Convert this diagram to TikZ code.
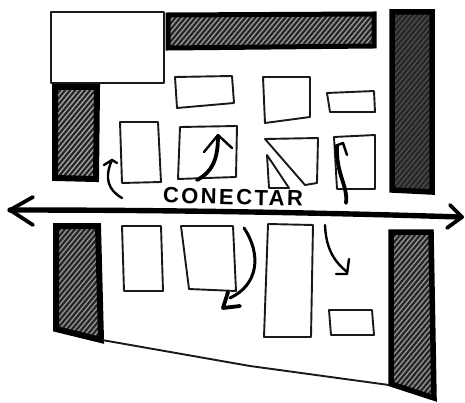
\documentclass[tikz,border=0pt]{standalone}
\usepackage{fontspec}
\setmainfont{Liberation Sans}
\newcommand{\hatchpoly}[3]{%
  \begin{scope}
    \clip #1 -- cycle;
    \fill[#2] (0,0) rectangle (465,403);
    \foreach \k in {-340,-335,...,470}{\draw[black!85,line width=2.2pt] (\k,410) -- (\k+340,0);}
  \end{scope}
  \draw[black,line width=#3,line join=miter] #1 -- cycle;
}
\tikzset{
  room/.style={draw=black!90,line width=1.9pt,line join=round},
  flowline/.style={black,line width=2.4pt,line cap=round,line join=round},
  heavyline/.style={black,line width=3.8pt,line cap=round,line join=round},
  mainline/.style={black,line width=5.4pt,line cap=round,line join=round},
}
\begin{document}
\begin{tikzpicture}[x=1pt,y=-1pt]
\useasboundingbox (0,0) rectangle (465,403);
% hatched masses
\hatchpoly{(168,15) -- (374,14) -- (374,46) -- (168,48)}{gray!80}{5pt}
\hatchpoly{(55,87) -- (97,87) -- (96,179) -- (55,178)}{gray!70}{6pt}
\hatchpoly{(392,12) -- (432,12) -- (432,192) -- (392,190)}{gray!60!black}{5.5pt}
\hatchpoly{(56,226) -- (98,226) -- (101,340) -- (56,329)}{gray!85}{6pt}
\hatchpoly{(391,232) -- (431,232) -- (434,398) -- (391,384)}{gray!85}{5.5pt}
% white block
\draw[room,fill=white] (51,12) -- (164,12) -- (164,83) -- (51,83) -- cycle;
% upper rooms
\draw[room] (175,77) -- (232,76) -- (234,103) -- (177,108) -- cycle;
\draw[room] (120,122) -- (158,122) -- (161,182) -- (122,183) -- cycle;
\draw[room] (180,127) -- (237,126) -- (236,177) -- (178,179) -- cycle;
\draw[room] (263,77) -- (310,77) -- (310,117) -- (265,123) -- cycle;
\draw[room] (327,93) -- (374,91) -- (375,112) -- (330,112) -- cycle;
\draw[room] (265,139) -- (318,138) -- (317,183) -- (305,185) -- cycle;
\draw[room] (267,155) -- (269,188) -- (289,188) -- cycle;
\draw[room] (334,137) -- (375,135) -- (375,189) -- (337,189) -- cycle;
% lower rooms
\draw[room] (122,226) -- (161,226) -- (163,291) -- (124,291) -- cycle;
\draw[room] (181,226) -- (233,226) -- (236,291) -- (189,289) -- cycle;
\draw[room] (268,224) -- (313,225) -- (311,337) -- (264,337) -- cycle;
\draw[room] (329,310) -- (372,310) -- (374,335) -- (331,335) -- cycle;
\draw[room] (102,340) -- (250,366) -- (389,385);
% small arrows
\draw[flowline] (122,198) .. controls (108,190) and (104,178) .. (112,160);
\draw[flowline] (104,165) -- (112,160) -- (117,163);
\draw[heavyline] (197,180) .. controls (212,172) and (218,160) .. (218,136);
\draw[flowline] (204,152) -- (218,135) -- (232,148);
\draw[heavyline] (346,203) .. controls (348,185) and (336,175) .. (337,146);
\draw[flowline] (335,146) -- (343,143) -- (347,155);
\draw[flowline,line width=3pt] (244,228) .. controls (262,255) and (258,285) .. (230,298);
\draw[heavyline] (228,292) -- (223,308) -- (240,306);
\draw[flowline] (325,225) .. controls (326,250) and (335,262) .. (347,272);
\draw[flowline] (349,259) -- (347,274) -- (336,274);
% main arrow
\draw[mainline] (10,210) .. controls (150,210) and (300,212) .. (461,217);
\draw[heavyline] (33,197) -- (10,210) -- (33,225);
\draw[heavyline] (450,205) -- (462,217) -- (447,228);
% label
\node[rotate=-1.5,inner sep=0pt] (label) at (233,197)
  {\fontsize{22}{22}\selectfont\addfontfeature{LetterSpace=11}\bfseries CONECTAR};
\end{tikzpicture}
\end{document}
